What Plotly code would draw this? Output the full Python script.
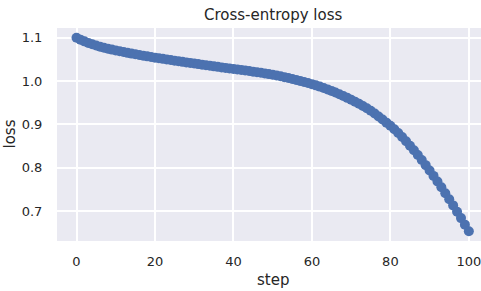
import plotly.graph_objects as go

steps = list(range(101))
loss = [
    1.1000, 1.0955, 1.0915, 1.0880, 1.0850, 1.0820, 1.0793, 1.0768, 1.0746, 1.0725,
    1.0705, 1.0686, 1.0668, 1.0650, 1.0633, 1.0616, 1.0600, 1.0584, 1.0569, 1.0554,
    1.0540, 1.0526, 1.0512, 1.0498, 1.0484, 1.0470, 1.0456, 1.0443, 1.0430, 1.0417,
    1.0404, 1.0391, 1.0378, 1.0365, 1.0352, 1.0339, 1.0327, 1.0315, 1.0303, 1.0291,
    1.0279, 1.0267, 1.0255, 1.0243, 1.0230, 1.0217, 1.0204, 1.0190, 1.0175, 1.0160,
    1.0144, 1.0127, 1.0109, 1.0090, 1.0070, 1.0049, 1.0027, 1.0004, 0.9980, 0.9955,
    0.9929, 0.9901, 0.9872, 0.9841, 0.9808, 0.9773, 0.9736, 0.9697, 0.9656, 0.9613,
    0.9570, 0.9524, 0.9476, 0.9426, 0.9375, 0.9315, 0.9251, 0.9184, 0.9114, 0.9041,
    0.8968, 0.8888, 0.8801, 0.8709, 0.8612, 0.8510, 0.8404, 0.8294, 0.8180, 0.8062,
    0.7940, 0.7814, 0.7684, 0.7551, 0.7415, 0.7276, 0.7134, 0.6989, 0.6841, 0.6690,
    0.6536,
]
x_ticks = [0, 20, 40, 60, 80, 100]
y_ticks = [0.7, 0.8, 0.9, 1.0, 1.1]
y_tick_labels = ["0.7", "0.8", "0.9", "1.0", "1.1"]
title_text = "Cross-entropy loss"
x_label = "step"
y_label = "loss"

W, H = 481, 291
L, R, T, B = 57, 0, 28, 50
plot_w = W - L - R
full_plot_w = 488 - L  # matplotlib axes extends past the cropped edge
center_px = L + full_plot_w / 2
cx = (center_px - L) / plot_w

txt = "#262626"
font = "DejaVu Sans"

fig = go.Figure()
fig.add_trace(go.Scatter(
    x=steps, y=loss, mode="lines+markers",
    line=dict(color="#4C72B0", width=2),
    marker=dict(color="#4C72B0", size=10, line=dict(width=0)),
    showlegend=False,
))

fig.update_layout(
    width=W, height=H,
    margin=dict(l=L, r=R, t=T, b=B),
    paper_bgcolor="white",
    plot_bgcolor="#EAEAF2",
    font=dict(family=font, color=txt, size=13),
    xaxis=dict(
        range=[-4.97, 103.1], tickvals=x_ticks,
        showgrid=True, gridcolor="white", gridwidth=1.5,
        zeroline=False, showline=False,
        ticks="outside", ticklen=8, tickcolor="rgba(0,0,0,0)",
        ticklabeloverflow="allow",
        tickfont=dict(size=13, color=txt, family=font),
    ),
    yaxis=dict(
        range=[0.6313, 1.1223], tickvals=y_ticks, ticktext=y_tick_labels,
        showgrid=True, gridcolor="white", gridwidth=1.5,
        zeroline=False, showline=False,
        ticks="outside", ticklen=11, tickcolor="rgba(0,0,0,0)",
        tickfont=dict(size=13, color=txt, family=font),
    ),
    annotations=[
        dict(text=title_text, xref="paper", yref="paper", x=cx, y=1,
             xanchor="center", yanchor="bottom", yshift=2, showarrow=False,
             font=dict(size=15, color=txt, family=font)),
        dict(text=x_label, xref="paper", yref="paper", x=cx, y=0,
             xanchor="center", yanchor="middle", yshift=-39, showarrow=False,
             font=dict(size=15, color=txt, family=font)),
        dict(text=y_label, xref="paper", yref="paper", x=(9 - L) / plot_w, y=0.5,
             xanchor="center", yanchor="middle", textangle=-90, showarrow=False,
             font=dict(size=15, color=txt, family=font)),
    ],
)

fig.write_html(
    "out.html",
    config={"displayModeBar": False},
    post_script="document.body.style.margin='0';document.body.style.padding='0';",
)
